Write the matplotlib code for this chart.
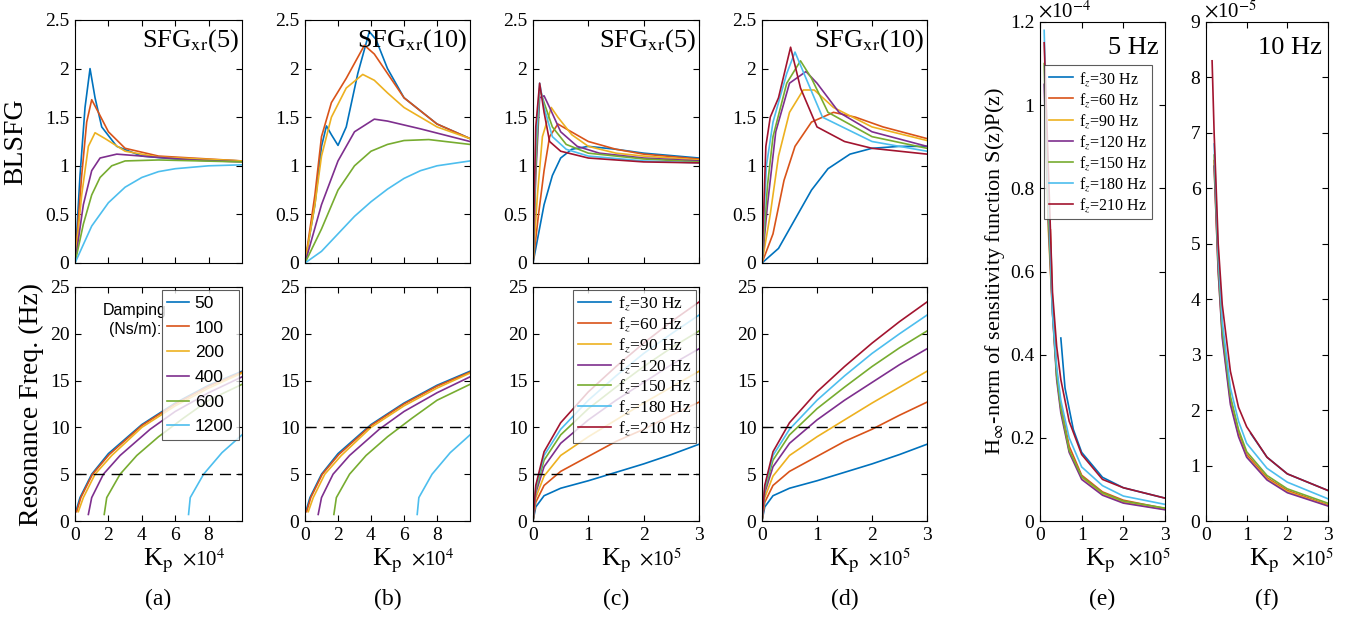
import numpy as np
import matplotlib.pyplot as plt

plt.rcParams['font.family'] = ['Liberation Serif', 'DejaVu Serif']
plt.rcParams['mathtext.fontset'] = 'stix'
plt.rcParams['font.size'] = 14

colors = ['#0072BD', '#D95319', '#EDB120', '#7E2F8E', '#77AC30', '#4DBEEE', '#A2142F']

# ---- damping curves, Kp in 1e4 ----
damping = ['50', '100', '200', '400', '600', '1200']
sfg5_damp = [
    [(0, 0), (0.3, 0.9), (0.6, 1.6), (0.9, 2.0), (1.2, 1.7), (1.6, 1.4), (2.5, 1.2), (4, 1.1), (6, 1.07), (10, 1.05)],
    [(0, 0), (0.4, 0.9), (0.7, 1.45), (1.0, 1.68), (1.4, 1.55), (2, 1.35), (3, 1.18), (5, 1.1), (10, 1.05)],
    [(0, 0), (0.4, 0.7), (0.8, 1.2), (1.2, 1.34), (1.8, 1.28), (3, 1.15), (5, 1.09), (10, 1.05)],
    [(0, 0), (0.5, 0.6), (1.0, 0.95), (1.5, 1.08), (2.5, 1.12), (4, 1.1), (7, 1.06), (10, 1.04)],
    [(0, 0), (0.5, 0.4), (1, 0.7), (1.5, 0.88), (2.2, 1.0), (3, 1.05), (5, 1.06), (10, 1.04)],
    [(0, 0), (1, 0.38), (2, 0.62), (3, 0.78), (4, 0.88), (5, 0.94), (6, 0.97), (8, 1.0), (10, 1.01)],
]
sfg10_damp = [
    [(0, 0), (0.6, 0.6), (1.0, 1.2), (1.3, 1.41), (1.6, 1.32), (2.0, 1.21), (2.5, 1.4), (3.2, 1.95), (3.9, 2.38),
     (4.3, 2.3), (5, 2.0), (6, 1.7), (8, 1.43), (10, 1.28)],
    [(0, 0), (0.6, 0.7), (1.0, 1.3), (1.6, 1.65), (2.5, 1.9), (3.6, 2.24), (4.2, 2.15), (5, 1.95), (6, 1.7),
     (8, 1.43), (10, 1.28)],
    [(0, 0), (0.6, 0.6), (1.0, 1.1), (1.6, 1.5), (2.5, 1.8), (3.5, 1.94), (4.2, 1.88), (5, 1.75), (6, 1.6),
     (8, 1.4), (10, 1.28)],
    [(0, 0), (1, 0.6), (2, 1.05), (3, 1.35), (4.2, 1.48), (5, 1.46), (7, 1.38), (10, 1.25)],
    [(0, 0), (1, 0.35), (2, 0.75), (3, 1.0), (4, 1.15), (5, 1.22), (6, 1.26), (7.5, 1.27), (10, 1.22)],
    [(0, 0), (1, 0.12), (2, 0.3), (3, 0.48), (4, 0.63), (5, 0.76), (6, 0.87), (7, 0.95), (8, 1.0), (10, 1.05)],
]
res_damp = [
    [(0.05, 1), (0.3, 2.5), (1, 5), (2, 7.2), (4, 10.3), (6, 12.6), (8, 14.5), (10, 16)],
    [(0.1, 1), (0.35, 2.5), (1.05, 5), (2.05, 7.1), (4, 10.2), (6, 12.5), (8, 14.4), (10, 15.9)],
    [(0.2, 1), (0.5, 2.5), (1.2, 5), (2.2, 7), (4, 10), (6, 12.3), (8, 14.2), (10, 15.8)],
    [(0.8, 0.7), (1.0, 2.5), (1.7, 5), (2.7, 7), (4.5, 9.8), (6, 11.7), (8, 13.7), (10, 15.4)],
    [(1.75, 0.7), (1.9, 2.5), (2.7, 5), (3.7, 7), (5, 9), (6.5, 11), (8, 12.9), (10, 14.6)],
    [(6.8, 0.7), (6.9, 2.5), (7.7, 5), (8.8, 7.3), (10, 9.2)],
]

# ---- fz curves, Kp in 1e5 ----
fz = ['30', '60', '90', '120', '150', '180', '210']
sfg5_fz = [
    [(0, 0), (0.1, 0.3), (0.2, 0.6), (0.35, 0.9), (0.5, 1.08), (0.7, 1.17), (1.0, 1.2), (1.5, 1.17), (2, 1.13), (3, 1.08)],
    [(0, 0), (0.1, 0.5), (0.2, 0.95), (0.3, 1.3), (0.45, 1.43), (0.6, 1.38), (1, 1.25), (1.5, 1.17), (2, 1.12), (3, 1.07)],
    [(0, 0), (0.08, 0.7), (0.17, 1.3), (0.33, 1.6), (0.45, 1.5), (0.7, 1.32), (1, 1.2), (1.5, 1.13), (2, 1.1), (3, 1.06)],
    [(0, 0), (0.05, 0.9), (0.12, 1.7), (0.2, 1.72), (0.3, 1.6), (0.5, 1.35), (0.8, 1.2), (1.2, 1.13), (2, 1.08), (3, 1.05)],
    [(0, 0), (0.05, 1.0), (0.12, 1.8), (0.2, 1.65), (0.35, 1.4), (0.6, 1.22), (1, 1.13), (2, 1.07), (3, 1.04)],
    [(0, 0), (0.05, 1.2), (0.12, 1.85), (0.2, 1.6), (0.35, 1.3), (0.6, 1.17), (1, 1.1), (2, 1.05), (3, 1.03)],
    [(0, 0), (0.05, 1.4), (0.12, 1.85), (0.2, 1.55), (0.3, 1.25), (0.5, 1.15), (1, 1.08), (2, 1.04), (3, 1.03)],
]
sfg10_fz = [
    [(0, 0), (0.3, 0.15), (0.6, 0.45), (0.9, 0.75), (1.2, 0.97), (1.6, 1.12), (2, 1.18), (2.5, 1.2), (3, 1.2)],
    [(0, 0), (0.2, 0.3), (0.4, 0.85), (0.6, 1.2), (0.9, 1.45), (1.3, 1.55), (1.7, 1.5), (2.2, 1.4), (3, 1.28)],
    [(0, 0), (0.15, 0.5), (0.3, 1.1), (0.5, 1.55), (0.75, 1.78), (0.95, 1.78), (1.3, 1.6), (2, 1.4), (3, 1.26)],
    [(0, 0), (0.1, 0.6), (0.25, 1.35), (0.5, 1.85), (0.8, 1.97), (1.0, 1.85), (1.4, 1.55), (2, 1.35), (3, 1.2)],
    [(0, 0), (0.1, 0.8), (0.2, 1.3), (0.45, 1.85), (0.7, 2.08), (0.9, 1.9), (1.2, 1.55), (2, 1.3), (3, 1.18)],
    [(0, 0), (0.08, 1.0), (0.2, 1.45), (0.45, 1.95), (0.6, 2.17), (0.8, 1.9), (1.1, 1.5), (2, 1.25), (3, 1.15)],
    [(0, 0), (0.07, 1.2), (0.15, 1.5), (0.3, 1.7), (0.52, 2.22), (0.7, 1.8), (1.0, 1.4), (1.5, 1.25), (2, 1.18), (3, 1.12)],
]
res_fz = [
    [(0, 0), (0.05, 1.5), (0.2, 2.7), (0.5, 3.5), (1, 4.3), (1.5, 5.2), (2, 6.1), (2.5, 7.1), (3, 8.2)],
    [(0, 0), (0.05, 2), (0.2, 3.8), (0.5, 5.3), (1, 6.9), (1.5, 8.5), (2, 9.8), (2.5, 11.3), (3, 12.7)],
    [(0, 0), (0.05, 2.5), (0.2, 4.8), (0.5, 7), (1, 9), (1.5, 10.8), (2, 12.6), (2.5, 14.3), (3, 16)],
    [(0, 0), (0.05, 3), (0.2, 5.8), (0.5, 8.3), (1, 10.8), (1.5, 12.9), (2, 14.8), (2.5, 16.7), (3, 18.4)],
    [(0, 0), (0.05, 3.3), (0.2, 6.5), (0.5, 9.2), (1, 12), (1.5, 14.3), (2, 16.5), (2.5, 18.5), (3, 20.3)],
    [(0, 0), (0.05, 3.6), (0.2, 7), (0.5, 9.8), (1, 12.9), (1.5, 15.5), (2, 17.9), (2.5, 20), (3, 22)],
    [(0, 0), (0.05, 3.8), (0.2, 7.4), (0.5, 10.5), (1, 13.8), (1.5, 16.5), (2, 19), (2.5, 21.3), (3, 23.4)],
]

# ---- H-inf norm, Kp in 1e5, values in 1e-4 (e) and 1e-5 (f) ----
hinf5 = [
    [(0.5, 0.44), (0.6, 0.32), (0.8, 0.22), (1, 0.165), (1.5, 0.105), (2, 0.08), (3, 0.055)],
    [(0.25, 0.7), (0.3, 0.52), (0.4, 0.36), (0.5, 0.28), (0.7, 0.18), (1, 0.11), (1.5, 0.07), (2, 0.05), (3, 0.03)],
    [(0.15, 0.9), (0.2, 0.7), (0.3, 0.5), (0.4, 0.35), (0.5, 0.27), (0.7, 0.17), (1, 0.105), (1.5, 0.065), (2, 0.045), (3, 0.028)],
    [(0.1, 1.05), (0.2, 0.72), (0.3, 0.5), (0.4, 0.34), (0.5, 0.26), (0.7, 0.165), (1, 0.1), (1.5, 0.062), (2, 0.043), (3, 0.027)],
    [(0.1, 1.1), (0.2, 0.74), (0.3, 0.51), (0.4, 0.35), (0.5, 0.27), (0.7, 0.17), (1, 0.107), (1.5, 0.068), (2, 0.048), (3, 0.031)],
    [(0.1, 1.18), (0.2, 0.8), (0.3, 0.5), (0.4, 0.37), (0.5, 0.29), (0.7, 0.2), (1, 0.13), (1.5, 0.085), (2, 0.06), (3, 0.04)],
    [(0.1, 1.15), (0.2, 0.85), (0.3, 0.55), (0.4, 0.42), (0.5, 0.34), (0.7, 0.24), (1, 0.16), (1.5, 0.1), (2, 0.08), (3, 0.055)],
]
hinf10 = [
    [(1.1, 1.58), (1.5, 1.15), (2, 0.85), (3, 0.55)],
    [(0.2, 6.5), (0.3, 4.6), (0.4, 3.4), (0.6, 2.2), (0.8, 1.6), (1, 1.2), (1.5, 0.78), (2, 0.55), (3, 0.29)],
    [(0.2, 6.4), (0.3, 4.5), (0.4, 3.35), (0.6, 2.15), (0.8, 1.55), (1, 1.17), (1.5, 0.76), (2, 0.53), (3, 0.28)],
    [(0.2, 6.4), (0.3, 4.5), (0.4, 3.3), (0.6, 2.1), (0.8, 1.52), (1, 1.15), (1.5, 0.74), (2, 0.51), (3, 0.27)],
    [(0.2, 6.6), (0.3, 4.7), (0.4, 3.45), (0.6, 2.25), (0.8, 1.65), (1, 1.25), (1.5, 0.82), (2, 0.58), (3, 0.32)],
    [(0.2, 6.8), (0.3, 4.8), (0.4, 3.6), (0.6, 2.4), (0.8, 1.8), (1, 1.4), (1.5, 0.95), (2, 0.7), (3, 0.4)],
    [(0.15, 8.3), (0.2, 7), (0.3, 5), (0.4, 3.9), (0.6, 2.7), (0.8, 2.05), (1, 1.7), (1.5, 1.15), (2, 0.85), (3, 0.55)],
]

W, H = 1361, 637
fig = plt.figure(figsize=(W / 100, H / 100), dpi=100)


def add_ax(x0, x1, y0, y1):
    return fig.add_axes([x0 / W, 1 - y1 / H, (x1 - x0) / W, (y1 - y0) / H])


def style(ax):
    ax.tick_params(direction='in', top=True, right=True, length=4, width=0.8, labelsize=14, pad=4)
    for s in ax.spines.values():
        s.set_linewidth(0.8)


def draw(ax, curves, labels=None):
    for i, c in enumerate(curves):
        c = np.array(c)
        ax.plot(c[:, 0], c[:, 1], color=colors[i], lw=1.2,
                label=None if labels is None else labels[i])


lefts = [(75, 242), (305, 470), (533, 699), (762, 927)]
tops = [sfg5_damp, sfg10_damp, sfg5_fz, sfg10_fz]
bots = [res_damp, res_damp, res_fz, res_fz]
titles = ['SFG$_{\\rm xr}$(5)', 'SFG$_{\\rm xr}$(10)', 'SFG$_{\\rm xr}$(5)', 'SFG$_{\\rm xr}$(10)']
xmax = [10, 10, 3, 3]
exps = ['4', '4', '5', '5']
dash = [5, 10, 5, 10]
caps = ['(a)', '(b)', '(c)', '(d)']

for k in range(4):
    x0, x1 = lefts[k]
    at = add_ax(x0, x1, 20, 263)
    draw(at, tops[k])
    at.set_xlim(0, xmax[k])
    at.set_ylim(0, 2.5)
    at.set_yticks([0, 0.5, 1, 1.5, 2, 2.5])
    at.set_yticklabels(['0', '0.5', '1', '1.5', '2', '2.5'])
    at.set_xticks([0, 2, 4, 6, 8] if xmax[k] == 10 else [0, 1, 2, 3])
    at.set_xticklabels([])
    style(at)
    at.text(0.98, 0.97, titles[k], transform=at.transAxes, ha='right', va='top', fontsize=19)

    ab = add_ax(x0, x1, 287, 521)
    draw(ab, bots[k], damping if k == 0 else (['f$_z$=%s Hz' % f for f in fz] if k == 2 else None))
    ab.axhline(dash[k], color='k', ls=(0, (8, 5)), lw=1)
    ab.set_xlim(0, xmax[k])
    ab.set_ylim(0, 25)
    ab.set_xticks([0, 2, 4, 6, 8] if xmax[k] == 10 else [0, 1, 2, 3])
    ab.set_yticks([0, 5, 10, 15, 20, 25])
    style(ab)
    ab.text(0.5, -0.11, 'K$_{\\rm p}$', transform=ab.transAxes, ha='center', va='top', fontsize=19)
    ab.text(0.64, -0.12, '$\\times\\mathregular{10}^{%s}$' % exps[k], transform=ab.transAxes,
            ha='left', va='top', fontsize=15)
    ab.text(0.5, -0.29, caps[k], transform=ab.transAxes, ha='center', va='top', fontsize=17)
    if k == 0:
        at.set_ylabel('BLSFG', fontsize=20, labelpad=12)
        ab.set_ylabel('Resonance Freq. (Hz)', fontsize=20, labelpad=4)
        leg = ab.legend(loc='upper right', prop={'family': 'Liberation Sans', 'size': 12.5},
                        fancybox=False, edgecolor='#333333', handlelength=1.3, borderaxespad=0.2,
                        labelspacing=0.55, handletextpad=0.3, borderpad=0.3)
        leg.get_frame().set_linewidth(0.8)
        ab.text(0.36, 0.93, 'Damping\n(Ns/m):', transform=ab.transAxes, ha='center', va='top',
                fontsize=11.5, family='Liberation Sans', linespacing=1.3)
    if k == 2:
        leg = ab.legend(loc='upper right', fancybox=False, edgecolor='#333333', fontsize=12.5,
                        handlelength=1.9, borderaxespad=0.15, labelspacing=0.15, handletextpad=0.4,
                        borderpad=0.3)
        leg.get_frame().set_linewidth(0.8)

# (e) and (f)
ae = add_ax(1040, 1165, 22, 521)
draw(ae, hinf5, ['f$_z$=%s Hz' % f for f in fz])
ae.set_xlim(0, 3)
ae.set_ylim(0, 1.2)
ae.set_xticks([0, 1, 2, 3])
ae.set_yticks([0, 0.2, 0.4, 0.6, 0.8, 1, 1.2])
ae.set_yticklabels(['0', '0.2', '0.4', '0.6', '0.8', '1', '1.2'])
style(ae)
ae.set_ylabel('H$_\\infty$-norm of sensitivity function S(z)P(z)', fontsize=16, labelpad=2)
ae.text(-0.02, 1.0, '$\\times\\mathregular{10}^{-4}$', transform=ae.transAxes, ha='left', va='bottom', fontsize=15)
ae.text(0.95, 0.97, '5 Hz', transform=ae.transAxes, ha='right', va='top', fontsize=19)
leg = ae.legend(loc='upper right', bbox_to_anchor=(0.96, 0.93), fancybox=False, edgecolor='#333333',
                fontsize=11.5, handlelength=1.5, labelspacing=0.2, handletextpad=0.4, borderpad=0.3)
leg.get_frame().set_linewidth(0.8)

af = add_ax(1206, 1328, 22, 521)
draw(af, hinf10)
af.set_xlim(0, 3)
af.set_ylim(0, 9)
af.set_xticks([0, 1, 2, 3])
af.set_yticks(range(10))
style(af)
af.text(-0.02, 1.0, '$\\times\\mathregular{10}^{-5}$', transform=af.transAxes, ha='left', va='bottom', fontsize=15)
af.text(0.95, 0.97, '10 Hz', transform=af.transAxes, ha='right', va='top', fontsize=19)

for ax, cap in [(ae, '(e)'), (af, '(f)')]:
    ax.text(0.48, -0.052, 'K$_{\\rm p}$', transform=ax.transAxes, ha='center', va='top', fontsize=19)
    ax.text(0.7, -0.056, '$\\times\\mathregular{10}^{5}$', transform=ax.transAxes, ha='left', va='top', fontsize=15)
    ax.text(0.5, -0.136, cap, transform=ax.transAxes, ha='center', va='top', fontsize=17)

fig.savefig('out.png', dpi=100)
